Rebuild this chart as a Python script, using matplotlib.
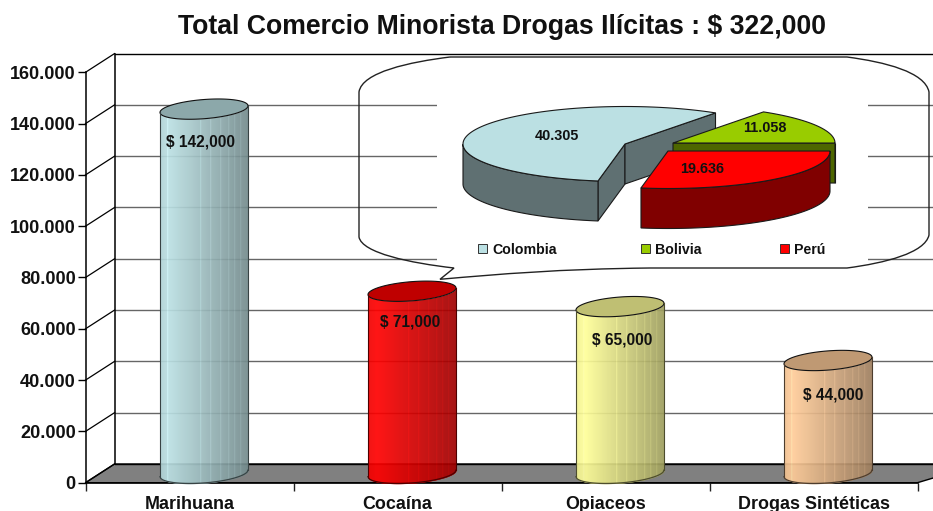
import numpy as np
import matplotlib
matplotlib.use("Agg")
import matplotlib.pyplot as plt
from matplotlib.path import Path
from matplotlib.patches import PathPatch, Rectangle

# ---- data ----
categories = ["Marihuana", "Cocaína", "Opiaceos", "Drogas Sintéticas"]
values = [142000, 71000, 65000, 44000]
value_labels = ["$ 142,000", "$ 71,000", "$ 65,000", "$ 44,000"]
y_ticks = [0, 20000, 40000, 60000, 80000, 100000, 120000, 140000, 160000]
pie_names = ["Colombia", "Bolivia", "Perú"]
pie_values = [40305, 11058, 19636]
title = "Total Comercio Minorista Drogas Ilícitas : $ 322,000"

# ---- style ----
bar_colors = ["#BBE0E3", "#FF0000", "#FFFF99", "#FFCC99"]
pie_top = ["#BBE0E3", "#99CC00", "#FF0000"]
pie_side = ["#5F7072", "#4D6600", "#800000"]
label_dx = [-4, -2, 2, 5]
label_dy = [-32.7, -30.5, -33.4, -34.6]
plt.rcParams["font.family"] = ["Liberation Sans", "DejaVu Sans"]
plt.rcParams["font.weight"] = "bold"

W, H = 933, 511
fig = plt.figure(figsize=(W / 100, H / 100), dpi=100, facecolor="white")
X0, X1, Y0, Y1 = 85.5, 917.5, 482.7, 72.3     # front plane in pixels
ax = fig.add_axes([X0 / W, 1 - Y0 / H, (X1 - X0) / W, (Y0 - Y1) / H])
ax.set_xlim(0, len(categories))
ax.set_ylim(0, y_ticks[-1])
ax.patch.set_visible(False)
for s in ("top", "right"):
    ax.spines[s].set_visible(False)
for s in ("left", "bottom"):
    ax.spines[s].set_linewidth(1.1)
    ax.spines[s].set_zorder(2)

DX, DY = 29.0, 18.7                            # depth offset in pixels
ux = len(categories) / (X1 - X0)               # data units per pixel
uy = y_ticks[-1] / (Y0 - Y1)
back_x, back_y = DX * ux, DY * uy

# ticks
ax.set_yticks(y_ticks)
ax.set_yticklabels([f"{v:,}".replace(",", ".") for v in y_ticks], fontsize=13.1, color="#111111")
ax.tick_params(axis="y", length=5.5, width=1.0, pad=1.5)
ax.set_xticks(range(len(categories) + 1))
ax.set_xticklabels([])
ax.tick_params(axis="x", which="major", length=5.5, width=1.0, color="#222222")
ax.set_xticks(np.arange(len(categories)) + 0.5, minor=True)
ax.set_xticklabels(categories, minor=True, fontsize=12.9, color="#111111")
ax.tick_params(axis="x", which="minor", length=0, pad=9.3)

# floor
xend = 4.3
ax.fill([0, back_x, xend, 4], [0, back_y, back_y, 0], fc="#808080", ec="black",
        lw=1.0, clip_on=False, zorder=1)

# walls and grid
for i, v in enumerate(y_ticks):
    yb = v + back_y
    c = "black" if v in (0, y_ticks[-1]) else "#666666"
    ax.plot([back_x, xend], [yb, yb], color=c, lw=1.0, clip_on=False, zorder=1.2)
    ax.plot([0, back_x], [v, yb], color="black", lw=0.9, clip_on=False, zorder=1.3)
ax.plot([back_x, back_x], [back_y, y_ticks[-1] + back_y], color="black", lw=1.1,
        clip_on=False, zorder=1.3)

# cylinders
A, B, S = 44.0, 9.6, 3.3       # half width, half height and tilt of the ellipse, px
def shade(t):
    if t < 0.1:
        return 0.94 + 0.06 * t / 0.1
    return 1.0 - 0.38 * (t - 0.1) / 0.9

def mix(col, f):
    r = np.array(matplotlib.colors.to_rgb(col)) * f
    return tuple(np.clip(r, 0, 1))

N = 88
streaks = [7, 40, 50, 60, 68, 74, 80]
for i, (v, col, lab) in enumerate(zip(values, bar_colors, value_labels)):
    cx = i + 0.5 + back_x / 2
    base = back_y / 2
    top = v + back_y / 2
    us = np.linspace(-1, 1, N + 1)
    def low(u, c):
        return c + (-B * np.sqrt(np.clip(1 - u ** 2, 0, 1)) + S * u) * uy
    for k in range(N):
        uu = np.linspace(us[k], us[k + 1], 3)
        xs = cx + uu * A * ux
        f = shade((k + 0.5) / N)
        if k in streaks:
            f *= 1.1
        ax.fill_between(xs, low(uu, base), low(uu, top), color=mix(col, f), lw=0.3, zorder=3,
                        clip_on=False, antialiased=False)
    t = np.linspace(0, 2 * np.pi, 160)
    ex = cx + A * ux * np.cos(t)
    ey = top + (B * np.sin(t) + S * np.cos(t)) * uy
    ax.fill(ex, ey, fc=mix(col, 0.75), ec="#111111", lw=0.8, zorder=4, clip_on=False)
    uu = np.linspace(-1, 1, 120)
    ec = mix(col, 0.3)
    ax.plot(cx + uu * A * ux, low(uu, base), color=ec, lw=0.9, zorder=4, clip_on=False)
    ax.plot([cx - A * ux] * 2, [low(-1.0, base), low(-1.0, top)], color=ec, lw=0.8, zorder=4)
    ax.plot([cx + A * ux] * 2, [low(1.0, base), low(1.0, top)], color=ec, lw=0.8, zorder=4)
    ax.annotate(lab, (cx, top), xytext=(label_dx[i], label_dy[i]), textcoords="offset pixels",
                ha="center", va="center", fontsize=11.2, color="#111111", zorder=5)

# overlay in pixel space: callout and embedded pie
ov = fig.add_axes([0, 0, 1, 1], zorder=5)
ov.set_xlim(0, W)
ov.set_ylim(H, 0)
ov.axis("off")
ov.add_patch(Rectangle((437, 60), 431, 206, fc="white", ec="none", zorder=1))
verts = [(450, 57), (847, 57), (885, 62), (925, 72), (929, 92), (929, 235),
         (925, 253), (885, 263), (847, 268), (650, 268), (560, 269), (500, 274),
         (440, 279.3), (454, 268), (410, 263), (362, 253), (359, 237), (359, 92),
         (362, 72), (410, 62), (450, 57)]
codes = [Path.MOVETO, Path.LINETO, Path.CURVE4, Path.CURVE4, Path.CURVE4, Path.LINETO,
         Path.CURVE4, Path.CURVE4, Path.CURVE4, Path.LINETO, Path.CURVE4, Path.CURVE4,
         Path.CURVE4, Path.LINETO, Path.CURVE4, Path.CURVE4, Path.CURVE4, Path.LINETO,
         Path.CURVE4, Path.CURVE4, Path.CURVE4]
ov.add_patch(PathPatch(Path(verts, codes), fc="none", ec="#222222", lw=1.0, zorder=2))

RX, RY, DEPTH = 162.0, 37.5, 40.0
centers = [(625, 144), (673, 143), (668, 151)]   # exploded slice centres, px
label_pos = [(557, 136), (765, 128), (702, 169)]
EC = "#1a1a1a"
start = 260.4
total = sum(pie_values)
angs = []
a = start
for v in pie_values:
    angs.append((a, a - 360 * v / total))
    a -= 360 * v / total

def P(c, t):
    t = np.radians(t)
    return c[0] + RX * np.cos(t), c[1] - RY * np.sin(t)

for j, (val, (a0, a1), c) in enumerate(zip(pie_values, angs, centers)):
    side, topc = pie_side[j], pie_top[j]
    # radial faces that look towards the viewer
    for ang, normal in ((a0, a0 + 90), (a1, a1 - 90)):
        if np.sin(np.radians(normal)) < 0:
            px, py = P(c, ang)
            ov.fill([c[0], px, px, c[0]], [c[1], py, py + DEPTH, c[1] + DEPTH], fc=side, ec=EC,
                    lw=0.8, zorder=3 + j)
    # outer wall: front half of the arc
    ts = np.linspace(a1, a0, 200)
    ts = ts[np.sin(np.radians(ts)) <= 0]
    if len(ts):
        xs, ys = P(c, ts)
        ov.fill(np.r_[xs, xs[::-1]], np.r_[ys, ys[::-1] + DEPTH], fc=side, ec=EC, lw=0.8,
                zorder=3 + j)
    tt = np.linspace(a1, a0, 200)
    xs, ys = P(c, tt)
    ov.fill(np.r_[c[0], xs], np.r_[c[1], ys], fc=topc, ec=EC, lw=0.8, zorder=3 + j)
    ov.text(*label_pos[j], f"{val / 1000:.3f}", ha="center", va="center", fontsize=10.4,
            color="#111111", zorder=8)

leg_x = [478, 641, 780]
for name, col, x in zip(pie_names, pie_top, leg_x):
    ov.add_patch(Rectangle((x, 244.5), 9, 9, fc=col, ec="#333333", lw=0.7, zorder=8))
    ov.text(x + 14, 249.8, name, ha="left", va="center", fontsize=10.2, color="#111111", zorder=8)

ov.text(502.5, 27, title, ha="center", va="center", fontsize=19.2, color="#111111")
fig.savefig("out.png", dpi=100, facecolor="white")
